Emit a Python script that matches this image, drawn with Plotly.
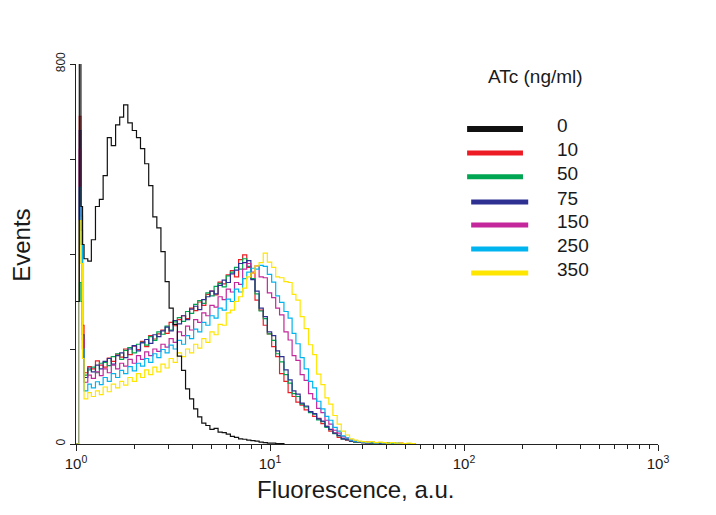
import plotly.graph_objects as go

# fluorescence channel (left edge of each histogram bin), a.u.
fluorescence = [
    1.00, 1.02, 1.04, 1.06, 1.08,
    1.10, 1.15, 1.20, 1.26, 1.32, 1.38, 1.45, 1.52, 1.60, 1.68,
    1.76, 1.85, 1.95, 2.05, 2.15, 2.26, 2.37, 2.49, 2.61, 2.74,
    2.88, 3.02, 3.17, 3.33, 3.50, 3.67, 3.85, 4.04, 4.24, 4.45,
    4.67, 4.90, 5.15, 5.40, 5.67, 5.95, 6.25, 6.56, 6.89,
    7.23, 7.59, 7.97, 8.37, 8.79, 9.23, 9.69, 10.2, 10.7, 11.2,
    11.8, 12.4, 13.0, 13.6, 14.3, 15.0, 15.8, 16.6, 17.4, 18.3,
    19.2, 20.1, 21.1, 22.2, 23.3, 24.5, 25.7, 27.0, 28.3, 29.7,
    31.2, 32.8, 34.4, 36.1, 37.9, 39.8, 41.8, 43.9, 46.1, 48.4,
    50.8, 53.3, 56.0,
]

atc_levels = ["0", "10", "50", "75", "150", "250", "350"]
colors = ["#111111", "#ed1c24", "#00a651", "#2e3192", "#c4279b", "#00b4ef", "#ffe600"]

events_0 = [
    300, 300, 830, 500, 420,
    390, 385, 430, 500, 515, 565, 645, 628, 672, 688,
    714, 676, 660, 645, 622, 590, 544, 478, 455, 405,
    342, 286, 252, 185, 155, 116, 95, 74, 57, 44,
    39, 31, 33, 25, 24, 21, 16, 14, 11,
    10, 8, 7, 6, 4, 3, 2, 2, 1, 1,
    0,
]
events_10 = [
    0, 0, 690, 450, 250,
    150, 163, 158, 175, 166, 162, 181, 174, 189, 183,
    200, 188, 206, 199, 216, 205, 228, 221, 232, 240,
    233, 256, 249, 262, 270, 264, 286, 281, 299, 292,
    315, 322, 314, 341, 337, 356, 365, 352, 388,
    398, 372, 360, 303, 282, 250, 232, 205, 184, 148,
    132, 108, 100, 88, 82, 72, 68, 58, 54, 43,
    37, 27, 23, 14, 11, 8, 6, 4, 5, 3,
    4, 2, 3, 2, 3, 1, 2, 1, 2, 1,
    1, 0, 0,
]
events_50 = [
    0, 0, 340, 300, 200,
    145, 156, 162, 150, 170, 172, 165, 184, 190, 178,
    197, 203, 192, 210, 214, 208, 226, 218, 236, 231,
    248, 240, 257, 266, 258, 279, 275, 294, 302, 296,
    318, 312, 332, 338, 331, 354, 362, 372, 368,
    390, 374, 348, 316, 280, 264, 232, 218, 190, 173,
    146, 128, 106, 100, 84, 78, 66, 63, 51, 47,
    35, 30, 22, 17, 11, 9, 6, 4, 4, 3,
    3, 2, 3, 1, 2, 2, 1, 1, 1, 0,
    1, 0, 0,
]
events_75 = [
    0, 0, 660, 500, 230,
    140, 160, 152, 166, 158, 174, 180, 168, 186, 192,
    182, 200, 207, 196, 213, 220, 212, 230, 226, 238,
    246, 238, 260, 253, 270, 262, 284, 290, 283, 304,
    310, 322, 316, 334, 345, 340, 358, 366, 380,
    382, 386, 346, 322, 286, 268, 236, 228, 196, 184,
    156, 135, 112, 105, 86, 80, 68, 64, 53, 48,
    37, 31, 23, 18, 11, 9, 6, 5, 4, 3,
    2, 3, 2, 2, 1, 2, 1, 1, 0, 1,
    0, 0, 0,
]
events_150 = [
    0, 0, 620, 480, 220,
    130, 145, 138, 152, 144, 158, 150, 166, 158, 170,
    164, 178, 170, 186, 178, 194, 186, 200, 195, 210,
    204, 222, 214, 236, 228, 248, 240, 262, 256, 276,
    270, 292, 288, 310, 304, 326, 320, 340, 336,
    368, 380, 362, 375, 352, 350, 318, 308, 286, 272,
    236, 219, 186, 176, 146, 134, 106, 95, 75, 66,
    50, 42, 29, 23, 15, 12, 8, 6, 5, 4,
    3, 4, 2, 3, 2, 1, 2, 1, 1, 1,
    0, 1, 0,
]
events_250 = [
    0, 0, 540, 420, 200,
    112, 126, 118, 131, 125, 140, 132, 148, 140, 155,
    148, 163, 154, 170, 164, 180, 172, 190, 182, 199,
    192, 208, 200, 218, 210, 228, 222, 242, 236, 256,
    250, 270, 265, 286, 282, 305, 300, 326, 320,
    348, 362, 370, 368, 376, 374, 357, 341, 312, 298,
    279, 265, 233, 211, 182, 158, 132, 118, 90, 74,
    58, 50, 35, 27, 17, 13, 8, 6, 5, 4,
    3, 4, 2, 3, 2, 2, 1, 2, 1, 1,
    1, 0, 0,
]
events_350 = [
    0, 0, 470, 380, 180,
    95, 108, 100, 112, 104, 120, 110, 126, 118, 132,
    124, 140, 132, 148, 140, 156, 146, 162, 152, 168,
    160, 180, 172, 192, 184, 200, 192, 210, 202, 222,
    214, 236, 230, 252, 250, 276, 282, 300, 310,
    328, 352, 360, 375, 382, 402, 383, 372, 352, 350,
    342, 340, 315, 303, 268, 243, 209, 188, 147, 125,
    97, 84, 60, 42, 27, 19, 11, 8, 6, 5,
    4, 5, 3, 4, 3, 2, 3, 2, 2, 1,
    2, 1, 0,
]

histograms = [events_0, events_10, events_50, events_75, events_150, events_250, events_350]

FONT = "Arial, 'Liberation Sans', Helvetica, sans-serif"

fig = go.Figure()

# coloured histograms first, untreated (black) on top
order = list(range(1, len(atc_levels))) + [0]
for i in order:
    counts = histograms[i]
    fig.add_trace(
        go.Scatter(
            x=fluorescence[: len(counts)],
            y=counts,
            mode="lines",
            line=dict(color=colors[i], width=1.2, shape="hv"),
            name=atc_levels[i],
            showlegend=False,
        )
    )

# hand-made legend: thick line samples + labels
legend_y = [0.829, 0.766, 0.703, 0.637, 0.576, 0.513, 0.450]
for i, (level, color) in enumerate(zip(atc_levels, colors)):
    x0, x1 = (0.672, 0.768) if i < 3 else (0.679, 0.777)
    fig.add_shape(
        type="line", xref="paper", yref="paper",
        x0=x0, x1=x1, y0=legend_y[i], y1=legend_y[i],
        line=dict(color=color, width=6 if i == 0 else 5),
    )
    fig.add_annotation(
        x=0.823, y=legend_y[i] + 0.009, xref="paper", yref="paper",
        text=level, showarrow=False, xanchor="left", yanchor="middle",
        font=dict(size=19, color="#1a1a1a"),
    )

fig.add_annotation(
    x=0.790, y=0.966, xref="paper", yref="paper", text="ATc (ng/ml)",
    showarrow=False, xanchor="center", yanchor="middle",
    font=dict(size=19, color="#1a1a1a"),
)
fig.add_annotation(
    x=0.481, y=-0.121, xref="paper", yref="paper", text="Fluorescence, a.u.",
    showarrow=False, xanchor="center", yanchor="middle",
    font=dict(size=24, color="#1a1a1a"),
)
fig.add_annotation(
    x=-0.093, y=0.524, xref="paper", yref="paper", text="Events",
    showarrow=False, textangle=-90, xanchor="center", yanchor="middle",
    font=dict(size=24, color="#1a1a1a"),
)

minor_ticks = [m * 10 ** d for d in range(3) for m in range(2, 10)]

# the page body has an 8px margin, so the figure is 16px smaller than the window
fig.update_layout(
    width=700,
    height=499,
    margin=dict(l=68, r=50, t=56, b=63),
    paper_bgcolor="white",
    plot_bgcolor="white",
    font=dict(family=FONT, color="#1a1a1a"),
    xaxis=dict(
        type="log",
        range=[0, 3],
        tickvals=[1, 10, 100, 1000],
        ticktext=["10<sup>0</sup>", "10<sup>1</sup>", "10<sup>2</sup>", "10<sup>3</sup>"],
        ticks="outside",
        ticklen=6,
        tickcolor="#222",
        tickfont=dict(size=15),
        minor=dict(tickvals=minor_ticks, ticks="outside", ticklen=4, tickcolor="#222"),
        showline=True,
        linecolor="#222",
        linewidth=1,
        showgrid=False,
        zeroline=False,
    ),
    yaxis=dict(
        range=[0, 800],
        tickvals=[0, 800],
        tickangle=-90,
        ticks="outside",
        ticklen=5,
        tickcolor="#222",
        tickfont=dict(size=12),
        minor=dict(tickvals=[200, 400, 600], ticks="outside", ticklen=5, tickcolor="#222"),
        showline=True,
        linecolor="#222",
        linewidth=1,
        showgrid=False,
        zeroline=False,
    ),
)

fig.write_html("out.html")
